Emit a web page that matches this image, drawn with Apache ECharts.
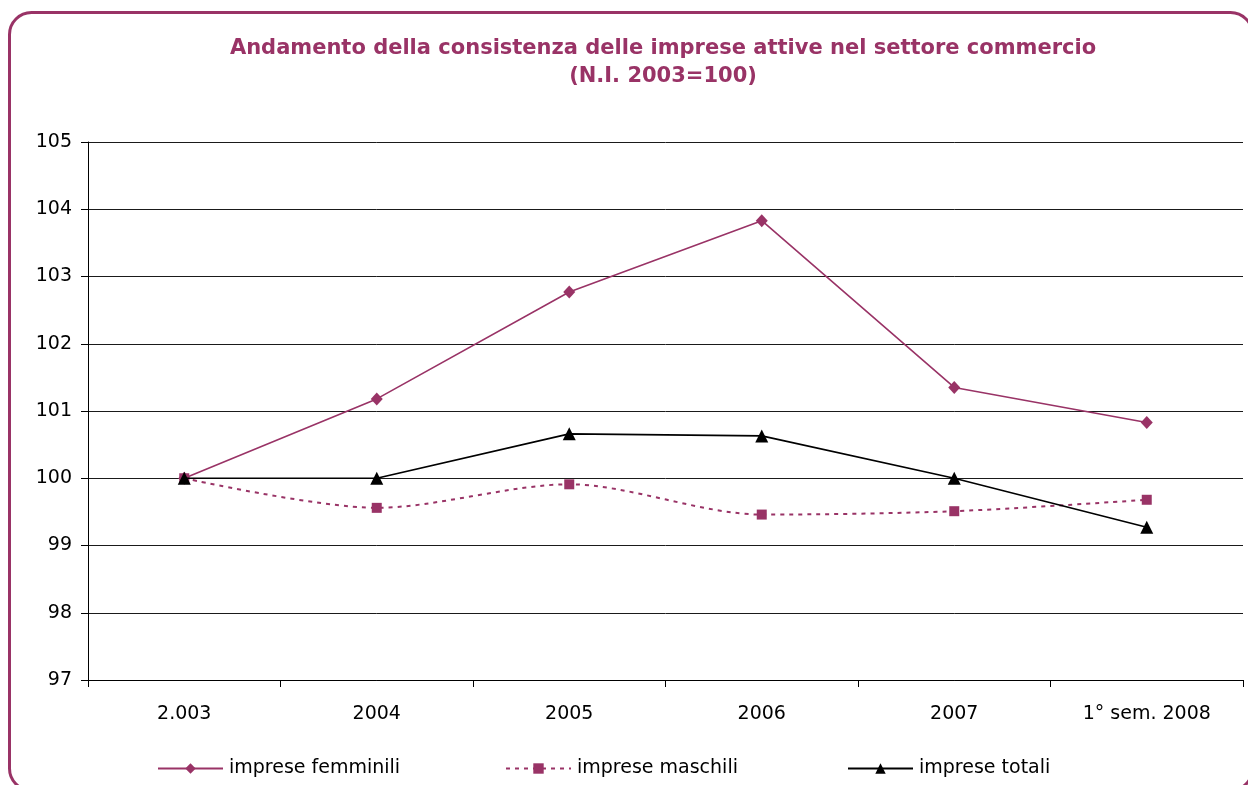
<!DOCTYPE html>
<html>
<head>
<meta charset="utf-8">
<script src="https://cdn.jsdelivr.net/npm/echarts@6/dist/echarts.min.js"></script>
<style>
  html, body { margin: 0; padding: 0; background: #fff; }
  #chart { width: 1248px; height: 785px; }
</style>
</head>
<body>
<div id="chart"></div>
<script>
// Periods on the horizontal axis
const categories = ['2.003', '2004', '2005', '2006', '2007', '1° sem. 2008'];

// Index numbers (2003 = 100)
const impreseFemminili = [100.00, 101.18, 102.77, 103.83, 101.35, 100.83];
const impreseMaschili  = [100.00, 99.56, 99.91, 99.46, 99.51, 99.68];
const impreseTotali    = [100.00, 100.00, 100.66, 100.63, 100.00, 99.27];

// Value axis ticks
const yTicks = { min: 97, max: 105, step: 1 };

const PLUM = '#993366';
const FONT = 'DejaVu Sans';

const chart = echarts.init(document.getElementById('chart'), null, { renderer: 'canvas' });

function legendAt(name, left) {
  return {
    data: [name],
    left: left,
    top: 754,
    itemWidth: 65,
    itemHeight: 13,
    itemGap: 0,
    textStyle: { fontFamily: FONT, fontSize: 19, color: '#000', padding: [0, 0, 0, 1] },
    selectedMode: false
  };
}

chart.setOption({
  animation: false,
  backgroundColor: '#fff',
  title: {
    text: 'Andamento della consistenza delle imprese attive nel settore commercio\n(N.I. 2003=100)',
    left: 658,
    top: 30,
    textAlign: 'center',
    textStyle: {
      fontFamily: FONT,
      fontWeight: 'bold',
      fontSize: 21,
      lineHeight: 28,
      color: PLUM,
      align: 'center'
    }
  },
  graphic: [{
    type: 'rect',
    shape: { x: 9.5, y: 12.5, width: 1243, height: 778, r: 22 },
    style: { fill: 'none', stroke: PLUM, lineWidth: 3 },
    silent: true,
    z: 100
  }],
  legend: [
    legendAt('imprese femminili', 152),
    legendAt('imprese maschili', 500),
    legendAt('imprese totali', 842)
  ],
  grid: { left: 88, right: 5, top: 142, bottom: 105 },
  xAxis: {
    type: 'category',
    data: categories,
    boundaryGap: true,
    axisLine: { lineStyle: { color: '#000', width: 1 } },
    axisTick: { show: true, interval: 0, length: 7, lineStyle: { color: '#000' } },
    axisLabel: { interval: 0, margin: 25, fontFamily: FONT, fontSize: 19, color: '#000' }
  },
  yAxis: {
    type: 'value',
    min: yTicks.min,
    max: yTicks.max,
    interval: yTicks.step,
    axisLine: { show: true, lineStyle: { color: '#000', width: 1 } },
    axisTick: { show: true, length: 7, lineStyle: { color: '#000' } },
    axisLabel: { margin: 16, fontFamily: FONT, fontSize: 19, color: '#000' },
    splitLine: { show: true, lineStyle: { color: '#1a1a1a', width: 1 } }
  },
  series: [
    {
      name: 'imprese femminili',
      type: 'line',
      data: impreseFemminili,
      symbol: 'diamond',
      symbolSize: [12, 13],
      itemStyle: { color: PLUM },
      lineStyle: { color: PLUM, width: 1.6 },
      z: 3
    },
    {
      name: 'imprese maschili',
      type: 'line',
      data: impreseMaschili,
      smooth: 0.3,
      symbol: 'rect',
      symbolSize: 10,
      itemStyle: { color: PLUM },
      lineStyle: { color: PLUM, width: 2, type: [4, 5] },
      z: 2
    },
    {
      name: 'imprese totali',
      type: 'line',
      data: impreseTotali,
      symbol: 'triangle',
      symbolSize: 13,
      itemStyle: { color: '#000' },
      lineStyle: { color: '#000', width: 1.6 },
      z: 4
    }
  ]
});
</script>
</body>
</html>
